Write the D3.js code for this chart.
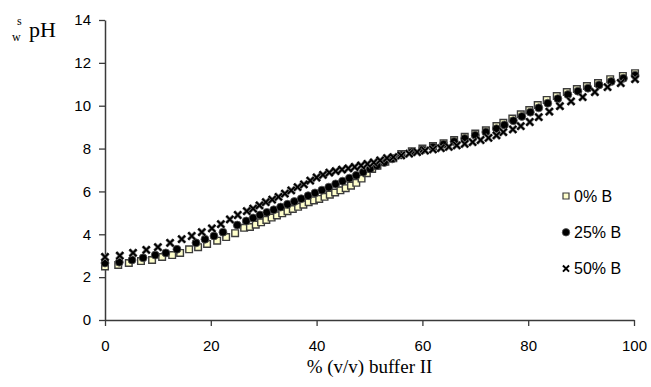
<!DOCTYPE html>
<html>
<head>
<meta charset="utf-8">
<script src="https://cdn.jsdelivr.net/npm/d3@7"></script>
<style>
  body { margin: 0; background: #fff; }
</style>
</head>
<body>
<div id="chart"></div>
<script>
// Data
const xB0 = [0, 2.5, 4.5, 6.8, 8.9, 10.8, 12.7, 14.2, 15.9, 17.6, 19.3, 21.2, 22.9, 24.6, 26.3, 27.4, 28.5, 29.5, 30.5, 31.5, 32.5, 33.5, 34.5, 35.5, 36.5, 37.5, 38.5, 39.5, 40.5, 41.5, 42.5, 43.5, 44.5, 45.5, 46.5, 47.5, 48.5, 49.5, 50.5, 51.5, 53, 54.5, 56, 58, 60, 62, 64, 66, 68, 70, 72, 74, 75.3, 77, 78.6, 80.2, 81.8, 83.5, 85.4, 87.3, 89.2, 91.1, 93.2, 95.5, 97.9, 100.2];
const yB0 = [2.5, 2.57, 2.66, 2.75, 2.8, 2.94, 3.03, 3.13, 3.3, 3.4, 3.55, 3.7, 3.87, 4.05, 4.3, 4.34, 4.45, 4.56, 4.67, 4.78, 4.88, 4.98, 5.08, 5.18, 5.28, 5.38, 5.5, 5.58, 5.65, 5.75, 5.85, 5.95, 6.05, 6.15, 6.27, 6.4, 6.6, 6.85, 7.05, 7.2, 7.38, 7.55, 7.75, 7.88, 8.0, 8.12, 8.25, 8.4, 8.55, 8.7, 8.85, 9.05, 9.2, 9.4, 9.6, 9.8, 10.03, 10.27, 10.45, 10.64, 10.78, 10.92, 11.06, 11.24, 11.39, 11.52];

const xB25 = [0, 2.7, 5.1, 7.2, 9.5, 11.5, 13.6, 17.2, 18.9, 20.6, 22.3, 25, 26.7, 28, 29.3, 30.6, 31.9, 33.2, 34.5, 35.8, 37.1, 38.4, 39.7, 41, 42.3, 43.6, 44.9, 46.2, 47.5, 48.8, 50.1, 51.4, 52.8, 54.3, 56, 58, 60, 62, 64, 66, 68, 70, 72, 74, 75.5, 77.2, 78.8, 80.4, 82, 83.7, 85.6, 87.5, 89.4, 91.3, 93.4, 95.7, 98, 100.2];
const yB25 = [2.66, 2.7, 2.8, 2.9, 3.03, 3.13, 3.3, 3.6, 3.77, 3.92, 4.1, 4.43, 4.62, 4.76, 4.9, 5.02, 5.14, 5.27, 5.4, 5.53, 5.66, 5.8, 5.93, 6.06, 6.2, 6.35, 6.48, 6.62, 6.75, 6.9, 7.05, 7.2, 7.35, 7.52, 7.7, 7.84, 7.95, 8.07, 8.2, 8.33, 8.47, 8.62, 8.77, 8.93, 9.1, 9.3, 9.5, 9.7, 9.9, 10.12, 10.33, 10.52, 10.68, 10.82, 10.97, 11.13, 11.28, 11.42];

const xB50 = [0, 2.8, 5.3, 7.8, 10, 12.3, 14.5, 16.4, 18.3, 20.2, 21.9, 23.6, 25.1, 26.8, 28, 29.2, 30.4, 31.6, 32.8, 34, 35.2, 36.4, 37.6, 38.8, 40, 41.2, 42.4, 43.6, 44.8, 46, 47.2, 48.4, 49.6, 50.8, 52, 53.3, 54.5, 56, 57.5, 59, 60.5, 62, 63.5, 65, 66.5, 68, 69.5, 71, 72.5, 74, 75.3, 77.1, 78.6, 80.3, 82, 84, 86, 88.1, 90.3, 92.6, 95, 97.5, 100.2];
const yB50 = [2.94, 3.0, 3.13, 3.27, 3.4, 3.6, 3.77, 3.92, 4.1, 4.28, 4.47, 4.7, 4.9, 5.08, 5.2, 5.35, 5.5, 5.62, 5.75, 5.9, 6.05, 6.2, 6.33, 6.5, 6.65, 6.77, 6.88, 6.95, 7.02, 7.08, 7.14, 7.21, 7.28, 7.35, 7.45, 7.55, 7.6, 7.68, 7.76, 7.84, 7.9, 7.96, 8.02, 8.08, 8.15, 8.22, 8.3, 8.4, 8.5, 8.62, 8.77, 8.9, 9.05, 9.24, 9.47, 9.72, 9.98, 10.2, 10.4, 10.64, 10.87, 11.06, 11.24];

const seriesNames = ["0% B", "25% B", "50% B"];
const xTicks = [0, 20, 40, 60, 80, 100];
const yTicks = [0, 2, 4, 6, 8, 10, 12, 14];

const W = 651, H = 387;
const margin = { top: 20, right: 17, bottom: 67, left: 105 };
const width = W - margin.left - margin.right;
const height = H - margin.top - margin.bottom;

const x = d3.scaleLinear().domain([0, 100]).range([0, width]);
const y = d3.scaleLinear().domain([0, 14]).range([height, 0]);

const svg = d3.select("#chart")
  .append("svg")
  .attr("width", W)
  .attr("height", H)
  .append("g")
  .attr("transform", `translate(${margin.left},${margin.top})`);

const axisColor = "#3a3a3a";
const sans = "Liberation Sans, Arial, sans-serif";
const serif = "Liberation Serif, Times New Roman, serif";

// x axis
svg.append("g")
  .attr("transform", `translate(0,${height})`)
  .call(d3.axisBottom(x).tickValues(xTicks).tickSize(6).tickPadding(14).tickSizeOuter(0))
  .call(g => g.select(".domain").attr("stroke", axisColor).attr("stroke-width", 1.5))
  .call(g => g.selectAll(".tick line").attr("stroke", axisColor).attr("stroke-width", 1.3))
  .selectAll(".tick text")
  .style("font-family", sans)
  .style("font-size", "15px")
  .attr("fill", "#000");

// y axis
svg.append("g")
  .call(d3.axisLeft(y).tickValues(yTicks).tickSize(6).tickPadding(8).tickSizeOuter(0))
  .call(g => g.select(".domain").attr("stroke", axisColor).attr("stroke-width", 1.5))
  .call(g => g.selectAll(".tick line").attr("stroke", axisColor).attr("stroke-width", 1.3))
  .selectAll(".tick text")
  .style("font-family", sans)
  .style("font-size", "15px")
  .attr("fill", "#000");

// markers
const toPts = (xs, ys) => xs.map((v, i) => ({ x: v, y: ys[i] }));
const sqPath = d3.symbol().type(d3.symbolSquare).size(44);
const ciPath = d3.symbol().type(d3.symbolCircle).size(50);
const xPath = d3.symbol().type(d3.symbolTimes).size(34);

function drawSquares(g, data) {
  g.selectAll(null).data(data).join("path")
    .attr("transform", d => `translate(${x(d.x)},${y(d.y)})`)
    .attr("d", sqPath)
    .attr("fill", "#ffffcc")
    .attr("stroke", "#3c3c3c")
    .attr("stroke-width", 1.4);
}
function drawCircles(g, data) {
  g.selectAll(null).data(data).join("path")
    .attr("transform", d => `translate(${x(d.x)},${y(d.y)})`)
    .attr("d", ciPath)
    .attr("fill", "#000")
    .attr("stroke", "#555")
    .attr("stroke-width", 0.8);
}
function drawCrosses(g, data) {
  g.selectAll(null).data(data).join("path")
    .attr("transform", d => `translate(${x(d.x)},${y(d.y)})`)
    .attr("d", xPath)
    .attr("fill", "none")
    .attr("stroke", "#777")
    .attr("stroke-width", 3.2);
  g.selectAll(null).data(data).join("path")
    .attr("transform", d => `translate(${x(d.x)},${y(d.y)})`)
    .attr("d", xPath)
    .attr("fill", "none")
    .attr("stroke", "#000")
    .attr("stroke-width", 1.8);
}

drawSquares(svg.append("g"), toPts(xB0, yB0));
drawCircles(svg.append("g"), toPts(xB25, yB25));
drawCrosses(svg.append("g"), toPts(xB50, yB50));

// legend
const legend = svg.append("g").attr("transform", "translate(461,176)");
const legSymbols = [
  { d: d3.symbol().type(d3.symbolSquare).size(36)(), fill: "#ffffcc", stroke: "#3c3c3c", sw: 1.2 },
  { d: d3.symbol().type(d3.symbolCircle).size(44)(), fill: "#000", stroke: "#555", sw: 0.8 },
  { d: d3.symbol().type(d3.symbolTimes).size(26)(), fill: "none", stroke: "#000", sw: 2 }
];
seriesNames.forEach((name, i) => {
  const row = legend.append("g").attr("transform", `translate(0,${i * 36.3})`);
  row.append("path")
    .attr("d", legSymbols[i].d)
    .attr("fill", legSymbols[i].fill)
    .attr("stroke", legSymbols[i].stroke)
    .attr("stroke-width", legSymbols[i].sw);
  row.append("text")
    .attr("x", 8)
    .attr("dy", "0.36em")
    .style("font-family", sans)
    .style("font-size", "16px")
    .text(name);
});

// x axis title
svg.append("text")
  .attr("x", width / 2)
  .attr("y", height + 53)
  .attr("text-anchor", "middle")
  .style("font-family", serif)
  .style("font-size", "19px")
  .text("% (v/v) buffer II");

// y axis title: pH with s superscript / w subscript on the left
const yt = svg.append("g").attr("transform", `translate(${-margin.left},${-margin.top})`);
yt.append("text")
  .attr("x", 17)
  .attr("y", 25)
  .style("font-family", serif)
  .style("font-size", "12px")
  .text("s");
yt.append("text")
  .attr("x", 12)
  .attr("y", 41)
  .style("font-family", serif)
  .style("font-size", "12px")
  .text("w");
yt.append("text")
  .attr("x", 29)
  .attr("y", 37)
  .style("font-family", serif)
  .style("font-size", "22px")
  .text("pH");
</script>
</body>
</html>
